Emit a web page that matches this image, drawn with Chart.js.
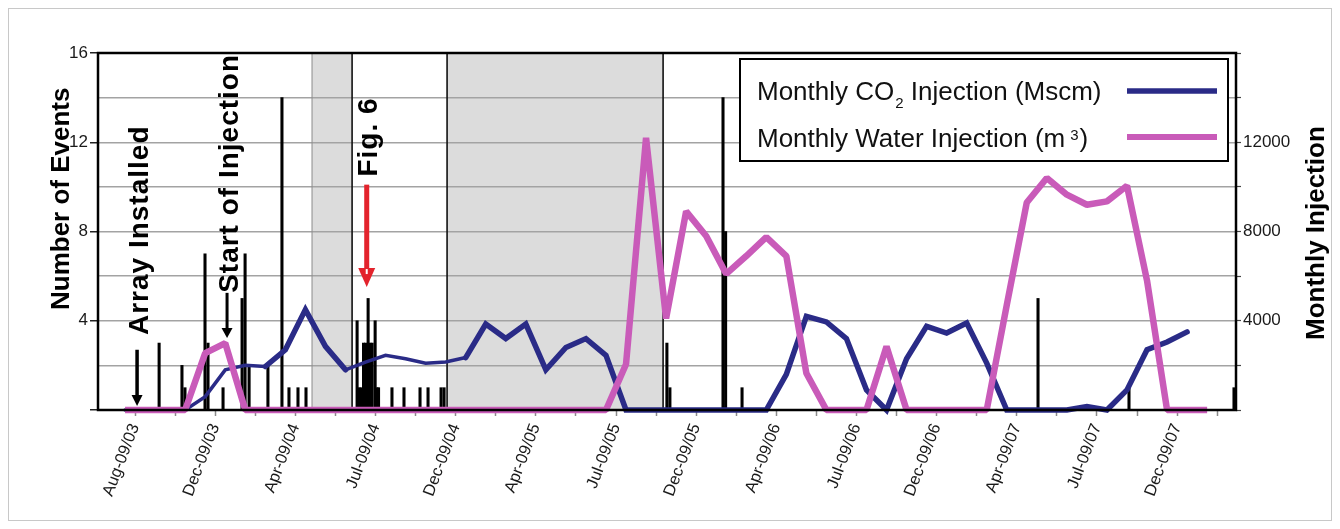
<!DOCTYPE html>
<html lang="en">
<head>
<meta charset="utf-8">
<title>Monthly injection and recorded events</title>
<script src="https://cdn.jsdelivr.net/npm/chart.js@4.4.1/dist/chart.umd.min.js"></script>
<style>
  html, body { margin: 0; padding: 0; background: #ffffff; }
  canvas { display: block; }
</style>
</head>
<body>
<canvas id="chart" width="1340" height="529"></canvas>
<script>
// ---- data ---------------------------------------------------------------
// Month index 0 is the first plotted month; values are monthly totals.
const co2Injection = [0, 0, 0, 0, 600, 1800, 2000, 1950, 2700, 4500,
  2850, 1800, 2150, 2450, 2300, 2100, 2150, 2350, 3850, 3200,
  3850, 1800, 2800, 3200, 2450, 0, 0, 0, 0, 0,
  0, 0, 0, 1600, 4200, 3950, 3200, 900, 0, 2300,
  3750, 3450, 3900, 2100, 0, 0, 0, 0, 150, 0,
  900, 2700, 3050, 3500];                       // Mscm

const waterInjection = [0, 0, 0, 0, 2550, 3000, 0, 0, 0, 0,
  0, 0, 0, 0, 0, 0, 0, 0, 0, 0,
  0, 0, 0, 0, 0, 2050, 12200, 4100, 8900, 7800,
  6100, 6900, 7750, 6900, 1650, 0, 0, 0, 2850, 0,
  0, 0, 0, 0, 4700, 9300, 10400, 9650, 9200, 9350,
  10050, 5800, 0, 0, 0];                        // m3

// Recorded events: time (months, same axis as above) and number of events
const eventMonths = [1.70, 2.84, 2.99, 3.99, 4.14, 4.89, 5.84, 5.99, 6.19, 7.13,
  7.83, 8.18, 8.63, 9.03,
  11.58, 11.68, 11.78, 11.90, 12.00, 12.13, 12.23, 12.33, 12.48, 12.57, 12.65,
  13.32, 13.92, 14.72, 15.12, 15.77, 15.92,
  27.04, 27.19, 29.84, 29.97, 30.79, 45.56, 50.10, 55.34];
const eventCounts = [3, 2, 1, 7, 3, 1, 5, 7, 2, 2,
  14, 1, 1, 1,
  4, 1, 1, 3, 3, 5, 3, 3, 4, 1, 1,
  1, 1, 1, 1, 1, 1,
  3, 1, 14, 8, 1, 5, 1, 1];

// Periods shaded grey, in months
const shadeFrom = [9.33, 16.07];
const shadeTo = [11.33, 26.85];

// Date labels, one on every second axis tick
const dateLabels = ['Aug-09/03', 'Dec-09/03', 'Apr-09/04', 'Jul-09/04', 'Dec-09/04',
  'Apr-09/05', 'Jul-09/05', 'Dec-09/05', 'Apr-09/06', 'Jul-09/06', 'Dec-09/06',
  'Apr-09/07', 'Jul-09/07', 'Dec-09/07'];

// ---- axis layout ----------------------------------------------------------
const X_MIN = -1.35, X_MAX = 55.44;
const TICK_FIRST = 0.5, TICK_STEP = 2, TICK_COUNT = 28;

const NAVY = '#2a2b87';
const PINK = '#c95bb9';
const RED = '#e3232c';
const FONT = "'Liberation Sans', Arial, Helvetica, sans-serif";

// CO2 line segments drawn with the lighter stroke (by starting point index)
const thinCo2 = idx => (idx >= 0 && idx <= 6) || (idx >= 11 && idx <= 16);

// Arrows with rotated captions, in data coordinates (month, events)
const notes = [
  { text: 'Array Installed', month: 0.60, from: 2.70, to: 0.18, textAt: 3.36, color: '#000', shaft: 3.5, headW: 11, headH: 11 },
  { text: 'Start of Injection', month: 5.09, from: 5.25, to: 3.23, textAt: 5.25, color: '#000', shaft: 3, headW: 11, headH: 10 },
  { text: 'Fig. 6', month: 12.06, from: 10.10, to: 5.51, textAt: 10.46, color: RED, shaft: 5, headW: 17, headH: 19 }
];

// ---- drawing helpers --------------------------------------------------------
function vText(ctx, str, x, y, font, spacing) {
  ctx.save();
  ctx.translate(x, y);
  ctx.rotate(-Math.PI / 2);
  ctx.font = font;
  if (spacing) ctx.letterSpacing = spacing;
  ctx.textAlign = 'left';
  ctx.textBaseline = 'alphabetic';
  ctx.fillText(str, 0, 0);
  ctx.restore();
}

function arrow(ctx, x, y0, y1, n) {
  ctx.fillStyle = n.color;
  ctx.fillRect(x - n.shaft / 2, y0, n.shaft, (y1 - n.headH) - y0 + 1);
  ctx.beginPath();
  ctx.moveTo(x - n.headW / 2, y1 - n.headH);
  ctx.lineTo(x + n.headW / 2, y1 - n.headH);
  ctx.lineTo(x, y1);
  ctx.closePath();
  ctx.fill();
}

function run(ctx, s, x, y, font) {
  ctx.font = font;
  ctx.fillText(s, x, y);
  return x + ctx.measureText(s).width;
}

function hLine(ctx, x0, x1, y) {
  ctx.beginPath();
  ctx.moveTo(x0, y);
  ctx.lineTo(x1, y);
  ctx.stroke();
}

function drawLegend(ctx, a) {
  const bx = a.right - 496, by = 59, bw = 488, bh = 102;
  ctx.fillStyle = '#ffffff';
  ctx.fillRect(bx, by, bw, bh);
  ctx.strokeStyle = '#000';
  ctx.lineWidth = 2;
  ctx.strokeRect(bx, by, bw, bh);

  ctx.fillStyle = '#111';
  ctx.textAlign = 'left';
  ctx.textBaseline = 'alphabetic';
  const big = `26px ${FONT}`, small = `15px ${FONT}`;
  const tx = bx + 17;
  let cx = run(ctx, 'Monthly CO', tx, 100, big);
  cx = run(ctx, '2', cx + 1, 108, small);
  run(ctx, ' Injection (Mscm)', cx, 100, big);
  cx = run(ctx, 'Monthly Water Injection (m', tx, 146.5, big);
  cx = run(ctx, '3', cx + 5, 140, small);
  run(ctx, ')', cx + 1, 146.5, big);

  ctx.lineCap = 'butt';
  ctx.strokeStyle = NAVY;
  ctx.lineWidth = 5.5;
  hLine(ctx, bx + 387, bx + 477, 91);
  ctx.strokeStyle = PINK;
  ctx.lineWidth = 6;
  hLine(ctx, bx + 387, bx + 477, 137);
}

const decorations = {
  id: 'decorations',
  beforeDraw(chart) {
    const { ctx, chartArea: a, scales: { x } } = chart;
    ctx.save();
    ctx.strokeStyle = '#c8c8c8';
    ctx.lineWidth = 1;
    ctx.strokeRect(8.5, 8.5, 1323, 512);
    ctx.fillStyle = '#dcdcdc';
    shadeFrom.forEach((s, k) => {
      const x0 = x.getPixelForValue(s), x1 = x.getPixelForValue(shadeTo[k]);
      ctx.fillRect(x0, a.top, x1 - x0, a.bottom - a.top);
    });
    ctx.restore();
  },
  beforeDatasetsDraw(chart) {
    const { ctx, chartArea: a, scales: { x } } = chart;
    ctx.save();
    shadeFrom.forEach((s, k) => {
      const edges = [[s, k === 0 ? '#8c8c8c' : '#111', k === 0 ? 1 : 1.6], [shadeTo[k], '#111', 1.6]];
      edges.forEach(([v, c, w]) => {
        const px = x.getPixelForValue(v);
        ctx.strokeStyle = c;
        ctx.lineWidth = w;
        ctx.beginPath();
        ctx.moveTo(px, a.top);
        ctx.lineTo(px, a.bottom);
        ctx.stroke();
      });
    });
    ctx.restore();
  },
  afterDatasetsDraw(chart) {
    const { ctx, chartArea: a, scales: { x, y } } = chart;
    ctx.save();
    ctx.strokeStyle = '#000';
    ctx.lineWidth = 2.5;
    ctx.strokeRect(a.left, a.top, a.right - a.left, a.bottom - a.top);

    ctx.fillStyle = '#000';
    vText(ctx, 'Number of Events', a.left - 29.5, 310, `bold 26px ${FONT}`);
    vText(ctx, 'Monthly Injection', a.right + 88, 340, `bold 26px ${FONT}`);

    notes.forEach(n => {
      const px = x.getPixelForValue(n.month);
      arrow(ctx, px, y.getPixelForValue(n.from), y.getPixelForValue(n.to), n);
      if (n.color !== '#000') {
        // light core line at the top of the red arrow head
        ctx.fillStyle = '#ffffff';
        ctx.fillRect(px - 1, y.getPixelForValue(n.to) - n.headH + 1, 2, 5);
      }
      ctx.fillStyle = '#000';
      vText(ctx, n.text, px + 10.5, y.getPixelForValue(n.textAt), `bold 28px ${FONT}`, '1px');
    });

    drawLegend(ctx, a);
    ctx.restore();
  }
};

// ---- chart ------------------------------------------------------------------
Chart.defaults.font.family = FONT;
Chart.defaults.color = '#1a1a1a';

new Chart(document.getElementById('chart'), {
  type: 'line',
  data: {
    datasets: [
      {
        type: 'line',
        label: 'Monthly Water Injection (m3)',
        data: waterInjection.map((v, i) => ({ x: i, y: v })),
        yAxisID: 'y2',
        borderColor: PINK,
        borderWidth: 6.5,
        borderJoinStyle: 'bevel',
        pointRadius: 0,
        tension: 0,
        clip: false,
        order: 0
      },
      {
        type: 'line',
        label: 'Monthly CO2 Injection (Mscm)',
        data: co2Injection.map((v, i) => ({ x: i, y: v })),
        yAxisID: 'y2',
        borderColor: NAVY,
        borderWidth: 5.5,
        borderJoinStyle: 'miter',
        borderCapStyle: 'round',
        segment: { borderWidth: c => thinCo2(c.p0DataIndex) ? 3.5 : 5.5 },
        pointRadius: 0,
        tension: 0,
        clip: false,
        order: 1
      },
      {
        type: 'bar',
        label: 'Number of Events',
        data: eventMonths.map((t, k) => ({ x: t, y: eventCounts[k] })),
        yAxisID: 'y',
        backgroundColor: '#000',
        barThickness: 2.4,
        grouped: false,
        order: 2
      }
    ]
  },
  options: {
    responsive: false,
    animation: false,
    devicePixelRatio: 1,
    layout: { padding: { top: 53, left: 0, right: 0, bottom: 0 } },
    plugins: { legend: { display: false }, tooltip: { enabled: false } },
    events: [],
    scales: {
      x: {
        type: 'linear',
        min: X_MIN,
        max: X_MAX,
        offset: false,
        afterFit: s => { s.height = 119; },
        afterBuildTicks: s => {
          const t = [];
          for (let k = 0; k < TICK_COUNT; k++) t.push({ value: TICK_FIRST + k * TICK_STEP });
          s.ticks = t;
        },
        grid: { drawOnChartArea: false, drawTicks: true, tickLength: 6, tickColor: '#8a8a8a', tickWidth: 1.5, offset: false },
        border: { display: false },
        ticks: {
          autoSkip: false,
          minRotation: 69,
          maxRotation: 69,
          padding: 5,
          font: { size: 16.5 },
          color: '#1a1a1a',
          callback: (v, i) => (i % 2 === 0 ? dateLabels[i / 2] : '')
        }
      },
      y: {
        position: 'left',
        min: 0,
        max: 16,
        afterFit: s => { s.width = 98; },
        grid: {
          color: '#a3a3a3',
          lineWidth: 1.5,
          tickLength: 8,
          tickColor: c => (c.tick && c.tick.value % 4 === 0 ? '#222' : 'rgba(0,0,0,0)')
        },
        border: { display: false },
        ticks: {
          stepSize: 2,
          padding: 2,
          font: { size: 17 },
          color: '#1a1a1a',
          callback: v => (v % 4 === 0 && v > 0 ? String(v) : '')
        }
      },
      y2: {
        position: 'right',
        min: 0,
        max: 16000,
        afterFit: s => { s.width = 104; },
        grid: { drawOnChartArea: false, tickLength: 5, tickColor: '#444', tickWidth: 1.2 },
        border: { display: false },
        ticks: {
          stepSize: 2000,
          padding: 2,
          font: { size: 17 },
          color: '#1a1a1a',
          callback: v => (v % 4000 === 0 && v > 0 && v < 16000 ? String(v) : '')
        }
      }
    }
  },
  plugins: [decorations]
});
</script>
</body>
</html>
